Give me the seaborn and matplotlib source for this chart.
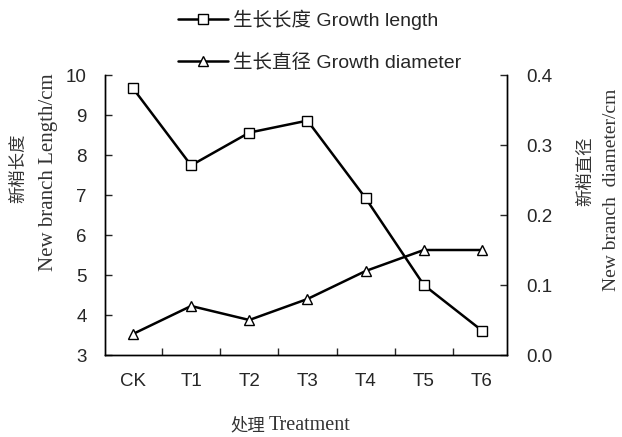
import matplotlib
matplotlib.use("Agg")
import matplotlib.pyplot as plt
import seaborn as sns
import pandas as pd
from matplotlib.lines import Line2D

treatments = ["CK", "T1", "T2", "T3", "T4", "T5", "T6"]
growth_length = [9.67, 7.74, 8.56, 8.86, 6.92, 4.75, 3.61]
growth_diameter = [0.03, 0.07, 0.05, 0.08, 0.12, 0.15, 0.15]

len_ticks = [3, 4, 5, 6, 7, 8, 9, 10]
dia_ticks = [0.0, 0.1, 0.2, 0.3, 0.4]
dia_tick_labels = ["0.0", "0.1", "0.2", "0.3", "0.4"]

sns.set_style("ticks")
plt.rcParams["font.family"] = ["Liberation Sans", "Noto Sans CJK SC"]

df = pd.DataFrame({"treatment": treatments,
                   "length": growth_length,
                   "diameter": growth_diameter})

fig = plt.figure(figsize=(6.22, 4.37), dpi=100)
ax = fig.add_axes([105 / 622, 1 - 355 / 437, 402 / 622, 280 / 437])
ax2 = ax.twinx()

style = dict(color="black", linewidth=1.8, markersize=7, markerfacecolor="white",
             markeredgecolor="black", markeredgewidth=1.0)
sns.lineplot(data=df, x="treatment", y="length", ax=ax, marker="s", legend=False, **style)
sns.lineplot(data=df, x="treatment", y="diameter", ax=ax2, marker="^", legend=False, **style)

ax.set_xlim(-0.48, 6.43)
ax.set_ylim(3, 10)
ax2.set_ylim(0, 0.4)

ax.set_yticks(len_ticks)
ax.set_yticklabels([str(v) for v in len_ticks])
ax2.set_yticks(dia_ticks)
ax2.set_yticklabels(dia_tick_labels)

# category labels sit between the tick marks
ax.set_xticks(range(len(treatments)))
ax.set_xticklabels(treatments)
ax.set_xticks([i + 0.5 for i in range(len(treatments) - 1)], minor=True)
ax.tick_params(axis="x", which="major", length=0, labelsize=13.5, pad=13)
ax.tick_params(axis="x", which="minor", direction="in", length=5, width=1)
ax.tick_params(axis="y", direction="in", length=5, width=1, labelsize=13.5, pad=13)
ax2.tick_params(axis="y", direction="in", length=5, width=1, labelsize=13.5, pad=14)
ax.set_xlabel("")
ax.set_ylabel("")
ax2.set_ylabel("")

for a in (ax, ax2):
    for s in a.spines.values():
        s.set_linewidth(1.0)
        s.set_color("black")
    a.spines["top"].set_visible(False)

# axis titles: Chinese line in CJK font, English line in serif
cjk = ["Noto Sans CJK SC"]
serif = ["Liberation Serif"]
grey = "#333333"
fig.text(18 / 622, 1 - 168 / 437, "新梢长度", rotation=90, ha="center", va="center",
         family=cjk, fontsize=12.5, fontweight="light", color=grey)
fig.text(49 / 622, 1 - 172 / 437, "New branch Length/cm", rotation=90, ha="center",
         va="center", family=serif, fontsize=15, color=grey)
fig.text(585 / 622, 1 - 171 / 437, "新梢直径", rotation=90, ha="center", va="center",
         family=cjk, fontsize=12.5, fontweight="light", color=grey)
fig.text(611 / 622, 1 - 190 / 437, "New branch  diameter/cm", rotation=90, ha="center",
         va="center", family=serif, fontsize=14, color=grey)
fig.text(265 / 622, 1 - 425 / 437, "处理", ha="right", va="center",
         family=cjk, fontsize=12.5, fontweight="light", color=grey)
fig.text(269 / 622, 1 - 425 / 437, "Treatment", ha="left", va="center",
         family=serif, fontsize=14.5, color=grey)

handles = [
    Line2D([], [], marker="s", **style),
    Line2D([], [], marker="^", **style),
]
fig.legend(handles, ["生长长度 Growth length", "生长直径 Growth diameter"],
           loc="upper left", bbox_to_anchor=(168 / 622, 1.0), frameon=False,
           fontsize=14, handlelength=2.6, handletextpad=0.25, labelspacing=1.2,
           markerfirst=True, borderaxespad=0.1)

fig.savefig("out.png", dpi=100)
